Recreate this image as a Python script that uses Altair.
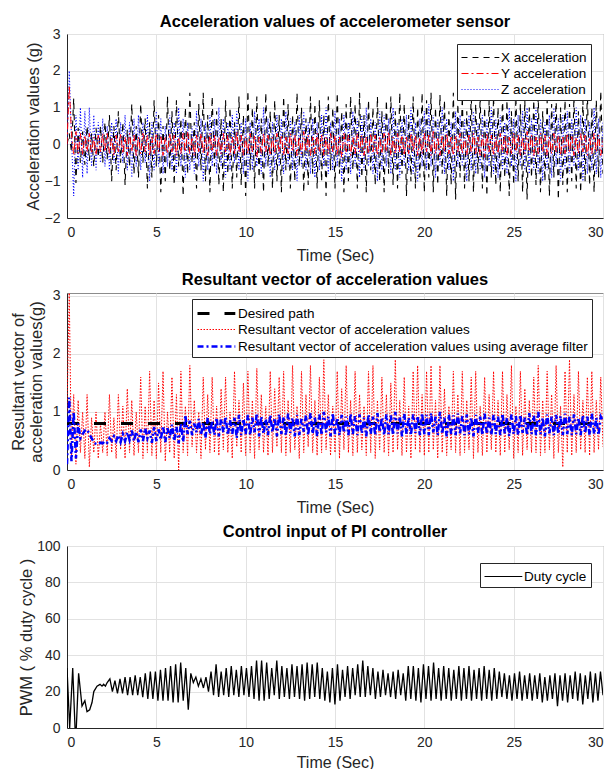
import altair as alt
import numpy as np
import pandas as pd

FONT = "Liberation Sans"
AX = "#262626"
GRID = "#e2e2e2"

# ---------------- data ----------------
# Panel 1: accelerometer axes, sampled every 0.125 s from 0 to 30 s
x_acc = [0,
    0.3, -0.2, 1.25, -1.05, 0.45, -0.5, 0.35, -0.55, 0.5, -0.45, 0.3, -0.6, 0.45, -0.35, 0.5, -0.5,
    0.6, -0.4, 0.8, -1.0, 0.5, -0.7, 0.9, -0.5, 0.6, -1.1, 0.4, -0.6, 1.1, -0.8, 0.5, -0.9,
    1.1, -0.5, 0.7, -1.2, 0.6, -0.9, 1.2, -0.6, 0.8, -1.3, 0.5, -1.0, 1.3, -0.7, 0.9, -1.1,
    1.2, -0.6, 0.7, -1.4, 1.0, -0.8, 1.4, -0.5, 0.6, -1.2, 1.1, -0.7, 1.4, -1.0, 0.8, -1.3,
    1.3, -0.6, 0.9, -1.1, 0.7, -1.3, 1.2, -0.8, 1.0, -1.2, 0.6, -0.9, 1.3, -1.1, 0.8, -1.4,
    1.45, -0.7, 1.0, -1.2, 1.3, -0.9, 0.7, -1.3, 1.4, -0.6, 0.9, -1.2, 1.2, -1.0, 0.8, -1.3,
    1.3, -0.7, 1.1, -1.2, 0.8, -1.0, 1.4, -0.6, 1.0, -1.3, 0.7, -1.1, 1.3, -0.8, 1.1, -1.2,
    1.2, -1.0, 0.8, -1.4, 1.3, -0.7, 1.0, -1.2, 1.4, -0.8, 0.9, -1.3, 1.1, -1.0, 1.3, -0.7,
    1.1, -1.2, 1.4, -0.9, 0.8, -1.3, 1.2, -0.7, 1.0, -1.1, 1.3, -1.0, 0.9, -1.3, 1.2, -0.8,
    1.3, -1.1, 0.9, -1.2, 1.4, -0.8, 1.1, -1.4, 0.8, -1.0, 1.3, -1.2, 1.0, -0.9, 1.4, -1.3,
    1.2, -0.9, 1.4, -1.3, 1.0, -1.1, 1.35, -0.8, 1.2, -1.4, 0.9, -1.1, 1.4, -1.5, 1.1, -0.9,
    1.3, -1.2, 0.9, -1.0, 1.4, -1.3, 1.1, -0.8, 1.3, -1.2, 1.0, -1.4, 1.2, -0.9, 1.3, -1.1,
    1.0, -1.3, 1.3, -0.9, 1.2, -1.4, 0.9, -1.1, 1.3, -1.0, 1.1, -1.3, 1.2, -1.5, 1.0, -0.9,
    1.2, -1.1, 1.3, -1.3, 0.9, -1.0, 1.2, -1.4, 1.1, -0.9, 1.3, -1.5, 1.0, -1.1, 1.2, -1.3,
    1.1, -1.0, 1.3, -1.2, 0.9, -1.3, 1.2, -1.0, 1.4, -1.1, 1.0, -1.3, 1.2, -0.9, 1.45, -0.8]

y_acc = [0,
    1.6, 0.3, -0.3, 0.35, -0.25, 0.3, -0.3, 0.25, -0.2, 0.3, -0.25, 0.2, -0.3, 0.25, -0.2, 0.3,
    -0.2, 0.3, -0.25, 0.2, -0.3, 0.25, -0.2, 0.3, -0.25, 0.2, -0.3, 0.3, -0.2, 0.25, -0.3, 0.2,
    -0.25, 0.3, -0.2, 0.25, -0.3, 0.2, -0.25, 0.3, -0.2, 0.25, -0.3, 0.2, -0.25, 0.3, -0.2, 0.25,
    -0.3, 0.2, -0.25, 0.3, -0.2, 0.35, -0.25, 0.2, -0.3, 0.25, -0.2, 0.3, -0.25, 0.2, -0.3, 0.3,
    -0.2, 0.25, -0.3, 0.2, -0.25, 0.3, -0.2, 0.25, -0.3, 0.2, -0.25, 0.35, -0.2, 0.25, -0.3, 0.2,
    -0.25, 0.3, -0.2, 0.25, -0.35, 0.2, -0.25, 0.3, -0.2, 0.25, -0.3, 0.2, -0.25, 0.3, -0.2, 0.25,
    -0.3, 0.2, -0.25, 0.3, -0.2, 0.25, -0.3, 0.2, -0.25, 0.35, -0.2, 0.25, -0.3, 0.2, -0.25, 0.3,
    -0.2, 0.25, -0.3, 0.2, -0.25, 0.3, -0.2, 0.25, -0.3, 0.2, -0.35, 0.3, -0.2, 0.25, -0.3, 0.2,
    -0.25, 0.3, -0.2, 0.25, -0.3, 0.2, -0.25, 0.3, -0.2, 0.25, -0.3, 0.2, -0.25, 0.3, -0.2, 0.35,
    -0.3, 0.2, -0.25, 0.3, -0.2, 0.25, -0.3, 0.2, -0.25, 0.3, -0.2, 0.25, -0.3, 0.2, -0.25, 0.3,
    -0.2, 0.25, -0.3, 0.35, -0.25, 0.2, -0.3, 0.25, -0.2, 0.3, -0.25, 0.2, -0.3, 0.25, -0.2, 0.3,
    -0.25, 0.2, -0.3, 0.25, -0.2, 0.3, -0.25, 0.2, -0.3, 0.25, -0.35, 0.3, -0.2, 0.25, -0.3, 0.2,
    -0.25, 0.3, -0.2, 0.25, -0.3, 0.2, -0.25, 0.3, -0.2, 0.25, -0.3, 0.2, -0.25, 0.35, -0.2, 0.25,
    -0.3, 0.2, -0.25, 0.3, -0.2, 0.25, -0.3, 0.2, -0.25, 0.3, -0.2, 0.25, -0.3, 0.2, -0.25, 0.3,
    -0.2, 0.25, -0.3, 0.2, -0.25, 0.3, -0.2, 0.25, -0.3, 0.2, -0.25, 0.3, -0.2, 0.25, -0.3, 0.1]

z_acc = [0,
    2.0, 0.2, -1.4, 0.8, -0.7, 1.0, -0.9, 0.9, -0.8, 1.0, -0.6, 0.8, -0.7, 0.6, -0.5, 0.7,
    -0.6, 0.5, -0.7, 0.6, -0.5, 0.7, -0.8, 0.6, -0.5, 0.8, -0.7, 0.6, -0.9, 0.7, -0.6, 0.8,
    -0.7, 0.6, -0.5, 0.8, -1.0, 0.6, -0.7, 0.9, -0.6, 0.7, -0.8, 0.5, -0.6, 0.8, -0.7, 0.6,
    -0.8, 1.0, -0.6, 0.7, -0.9, 0.6, -0.7, 0.5, -0.8, 0.9, -0.6, 0.7, -1.0, 0.6, -0.7, 0.8,
    -0.6, 0.7, -0.8, 1.0, -0.6, 0.7, -0.9, 0.6, -0.7, 0.8, -0.5, 0.9, -0.7, 0.6, -0.8, 0.7,
    -1.0, 0.6, -0.7, 0.9, -0.6, 0.7, -0.8, 1.0, -0.6, 0.7, -0.9, 0.6, -0.7, 0.8, -0.6, 0.7,
    -0.8, 0.9, -0.6, 0.7, -0.7, 0.6, -1.0, 0.8, -0.6, 0.9, -0.7, 0.6, -0.8, 0.7, -0.9, 0.6,
    -0.7, 0.8, -0.6, 1.0, -0.8, 0.6, -0.7, 0.9, -0.6, 0.7, -1.0, 0.8, -0.7, 0.6, -0.8, 0.9,
    -0.6, 0.7, -0.9, 0.8, -0.7, 1.0, -0.6, 0.7, -0.8, 0.6, -1.0, 0.9, -0.7, 0.8, -0.6, 0.7,
    -0.8, 1.0, -0.7, 0.6, -0.9, 0.7, -0.6, 0.8, -0.7, 1.0, -0.8, 0.6, -1.0, 0.7, -0.6, 0.9,
    -0.7, 1.1, -0.6, 0.8, -0.9, 0.7, -0.6, 1.0, -0.8, 0.7, -0.7, 0.6, -1.0, 0.9, -0.6, 0.8,
    -0.6, 0.7, -1.0, 0.8, -0.7, 0.9, -0.8, 0.6, -0.7, 0.8, -0.9, 0.7, -0.6, 1.0, -0.8, 0.7,
    -0.9, 0.8, -0.7, 0.6, -0.8, 1.0, -0.6, 0.7, -1.0, 0.8, -0.6, 0.9, -0.7, 1.0, -0.8, 0.7,
    -0.7, 1.0, -0.8, 0.7, -1.0, 0.6, -0.7, 0.8, -0.9, 1.0, -0.6, 0.7, -1.0, 0.8, -0.7, 0.9,
    -0.8, 0.7, -0.6, 1.0, -0.7, 0.8, -1.0, 0.7, -0.8, 0.6, -0.7, 1.0, -0.8, 0.7, -0.9, 0.6]

# Panel 2: resultant vector (raw and average filtered), every 0.125 s
res_raw = [1.0,
    3.05, 0.2, 1.3, 0.1, 1.2, 0.3, 1.0, 0.2, 1.3, 0.05, 0.9, 0.3, 1.0, 0.2, 0.8, 0.3,
    1.0, 0.25, 1.3, 0.3, 0.9, 0.2, 1.3, 0.35, 1.1, 0.2, 1.4, 0.3, 1.2, 0.25, 1.0, 0.3,
    1.6, 0.2, 1.1, 0.3, 1.7, 0.25, 1.2, 0.2, 1.5, 0.3, 1.7, 0.15, 1.0, 0.3, 1.6, 0.2,
    1.3, 0.0, 1.7, 0.3, 1.1, 0.25, 1.8, 0.4, 1.2, 0.3, 1.0, 0.2, 1.6, 0.35, 1.3, 0.3,
    1.6, 0.3, 1.1, 0.25, 1.4, 0.35, 1.6, 0.3, 1.0, 0.2, 1.7, 0.4, 1.2, 0.3, 1.5, 0.25,
    1.7, 0.3, 1.2, 0.2, 1.75, 0.35, 1.3, 0.3, 1.1, 0.25, 1.7, 0.3, 1.4, 0.4, 1.6, 0.3,
    1.7, 0.25, 1.2, 0.3, 1.8, 0.35, 1.1, 0.2, 1.7, 0.3, 1.3, 0.4, 1.8, 0.3, 1.2, 0.25,
    1.6, 0.3, 1.9, 0.35, 1.3, 0.25, 1.1, 0.3, 1.7, 0.2, 1.4, 0.35, 1.8, 0.3, 1.2, 0.25,
    1.7, 0.3, 1.3, 0.35, 1.1, 0.25, 1.7, 0.3, 1.8, 0.2, 1.2, 0.35, 1.6, 0.3, 1.3, 0.25,
    1.5, 0.3, 1.9, 0.35, 1.2, 0.25, 1.6, 0.3, 1.1, 0.2, 1.7, 0.35, 1.8, 0.3, 1.3, 0.25,
    1.7, 0.3, 1.8, 0.35, 1.2, 0.2, 1.8, 0.3, 1.4, 0.25, 1.1, 0.35, 1.7, 0.3, 1.3, 0.25,
    1.7, 0.3, 1.2, 0.35, 1.6, 0.2, 1.7, 0.3, 1.1, 0.25, 1.6, 0.3, 1.3, 0.35, 1.7, 0.3,
    1.2, 0.25, 1.7, 0.3, 1.3, 0.35, 1.8, 0.2, 1.1, 0.3, 1.7, 0.25, 1.4, 0.35, 1.2, 0.3,
    1.6, 0.3, 1.8, 0.25, 1.2, 0.3, 1.7, 0.35, 1.3, 0.2, 1.8, 0.3, 1.1, 0.05, 1.7, 0.3,
    1.9, 0.25, 1.3, 0.3, 1.7, 0.35, 1.2, 0.3, 1.6, 0.25, 1.7, 0.3, 1.2, 0.35, 1.6, 0.4]

res_avg = [0.1,
    1.25, 0.15, 1.0, 0.2, 0.8, 0.55, 0.62, 0.68, 0.7, 0.62, 0.55, 0.48, 0.45, 0.44, 0.47, 0.46,
    0.5, 0.47, 0.55, 0.5, 0.58, 0.5, 0.6, 0.48, 0.62, 0.5, 0.65, 0.52, 0.68, 0.5, 0.66, 0.48,
    0.7, 0.5, 0.72, 0.55, 0.68, 0.47, 0.74, 0.5, 0.7, 0.52, 0.76, 0.48, 0.72, 0.55, 0.78, 0.5,
    0.75, 0.46, 0.8, 0.48, 0.95, 0.62, 0.85, 0.6, 0.8, 0.65, 0.88, 0.6, 0.82, 0.55, 0.9, 0.62,
    0.85, 0.6, 0.9, 0.58, 0.88, 0.65, 0.92, 0.6, 0.86, 0.62, 0.9, 0.55, 0.95, 0.6, 0.88, 0.62,
    0.95, 0.6, 0.9, 0.65, 0.98, 0.58, 0.92, 0.62, 0.88, 0.6, 0.95, 0.65, 0.9, 0.58, 0.96, 0.62,
    0.92, 0.6, 0.97, 0.64, 0.9, 0.58, 0.95, 0.6, 0.88, 0.66, 0.94, 0.6, 0.98, 0.62, 0.9, 0.58,
    0.96, 0.6, 1.0, 0.65, 0.92, 0.58, 0.98, 0.62, 0.9, 0.6, 0.95, 0.64, 0.92, 0.6, 0.97, 0.62,
    0.93, 0.6, 0.96, 0.63, 0.9, 0.58, 0.95, 0.62, 0.92, 0.6, 0.98, 0.65, 0.9, 0.6, 0.96, 0.62,
    0.94, 0.6, 1.0, 0.63, 0.92, 0.58, 0.97, 0.62, 0.9, 0.6, 0.96, 0.64, 0.93, 0.6, 0.98, 0.62,
    0.95, 0.6, 0.98, 0.65, 0.92, 0.6, 1.0, 0.62, 0.9, 0.58, 0.96, 0.62, 0.94, 0.6, 0.97, 0.63,
    0.93, 0.6, 0.96, 0.62, 0.9, 0.58, 0.95, 0.64, 0.92, 0.6, 0.97, 0.62, 0.9, 0.6, 0.95, 0.62,
    0.92, 0.6, 0.97, 0.63, 0.9, 0.58, 0.96, 0.62, 0.93, 0.6, 0.95, 0.64, 0.9, 0.6, 0.98, 0.62,
    0.94, 0.6, 1.0, 0.62, 0.9, 0.58, 0.96, 0.63, 0.92, 0.6, 0.95, 0.62, 0.93, 0.6, 0.97, 0.62,
    0.92, 0.6, 0.96, 0.62, 0.9, 0.6, 0.95, 0.63, 0.92, 0.6, 0.97, 0.62, 0.9, 0.6, 0.92, 0.85]

desired_t = [0, 30]
desired_v = [0.8, 0.8]

# Panel 3: duty cycle. Start-up transient (explicit times) then steady oscillation
pwm_start_t = [0, 0.0, 0.15, 0.32, 0.45, 0.52, 0.65, 0.84, 1.0, 1.12, 1.27, 1.4, 1.5, 1.68, 1.85, 1.96, 2.05, 2.15, 2.25]
pwm_start_v = [0, 33, 0, 33, 0, 0, 30, 12, 15, 9, 10, 14, 20, 23, 24, 23, 24, 23, 25]
pwm_osc = [  # alternating peak / trough, 2.4 s .. 30 s
    27, 20, 26, 19, 27, 19, 28, 18, 28, 18, 29, 18, 28, 17, 30, 16, 31, 16, 31, 15,
    32, 15, 33, 15, 34, 14, 35, 14, 36, 15, 33, 10, 30, 25, 28, 23, 27, 22, 28, 20,
    31, 18, 35, 17, 31, 18, 33, 17, 34, 18, 32, 17, 34, 18, 33, 17, 34, 16, 37, 15,
    37, 15, 36, 16, 33, 18, 37, 16, 34, 17, 33, 16, 35, 17, 34, 16, 35, 15, 36, 16,
    35, 17, 36, 16, 33, 15, 31, 14, 33, 13, 35, 15, 32, 17, 34, 16, 33, 18, 35, 17,
    37, 17, 34, 18, 33, 16, 31, 17, 32, 18, 30, 17, 31, 16, 32, 18, 30, 15, 34, 16,
    34, 15, 33, 14, 35, 16, 34, 15, 36, 16, 33, 15, 34, 16, 33, 15, 32, 16, 34, 15,
    33, 16, 34, 15, 32, 16, 33, 15, 34, 16, 32, 15, 33, 16, 31, 17, 30, 16, 29, 15,
    30, 16, 31, 15, 29, 16, 30, 15, 29, 16, 30, 14, 28, 15, 29, 16, 30, 12, 29, 15,
    30, 14, 29, 16, 31, 15, 30, 13, 29, 16, 31, 14, 30, 15, 31, 18]


def series(vals, name, t0=0.0, t1=30.0):
    return pd.DataFrame({"t": np.linspace(t0, t1, len(vals)), "v": vals, "s": name})


# ---------------- helpers ----------------
W = 536


def x_enc(tpad):
    # end labels flush so the figure fits the 597 px wide page body
    return alt.X("t:Q", scale=alt.Scale(domain=[0, 30], nice=False, zero=False),
                 axis=alt.Axis(values=[0, 5, 10, 15, 20, 25, 30], format="d",
                               title="Time (Sec)", labelFlush=True, labelFlushOffset=0,
                               titlePadding=tpad, titleFontSize=16))


def y_enc(domain, values, title, tpad):
    return alt.Y("v:Q", scale=alt.Scale(domain=domain, nice=False, zero=False),
                 axis=alt.Axis(values=values, format="d", title=title, titlePadding=tpad,
                               titleFontSize=16.5))


def legend(lx, ly):
    # 18 px rows with a long (38 px) stroke symbol drawn from the entry's left edge
    return alt.Legend(orient="none", legendX=lx, legendY=ly, title=None,
                      symbolType="M-1,0L3.2,0", symbolSize=324, labelOffset=21,
                      labelFont=FONT, labelFontSize=13.5, labelColor="#000",
                      labelLimit=0, strokeColor=AX, fillColor="white", padding=4,
                      rowPadding=0, symbolFillColor="transparent")


def title(text, off):
    return alt.TitleParams(text, font=FONT, fontSize=16.5, fontWeight="bold",
                           color="#000", frame="group", anchor="middle", offset=off)


# ---------------- panel 1 ----------------
dom1 = ["X acceleration", "Y acceleration", "Z acceleration"]
col1 = ["#000000", "#ff0000", "#0000ff"]
dash1 = [[6, 5], [7, 3, 2, 3], [1, 2]]
leg1 = legend(390, 10)


def layer1(vals, name, w):
    return alt.Chart(series(vals, name)).mark_line(strokeWidth=w, clip=True).encode(
        x=x_enc(8),
        y=y_enc([-2, 3], [-2, -1, 0, 1, 2, 3], "Acceleration values (g)", 3),
        color=alt.Color("s:N", scale=alt.Scale(domain=dom1, range=col1), legend=leg1),
        strokeDash=alt.StrokeDash("s:N", scale=alt.Scale(domain=dom1, range=dash1), legend=leg1),
    )


p1 = alt.layer(layer1(x_acc, dom1[0], 1.1), layer1(z_acc, dom1[2], 1.1), layer1(y_acc, dom1[1], 1)).properties(
    width=W, height=184, title=title("Acceleration values of accelerometer sensor", -3))

# ---------------- panel 2 ----------------
dom2 = ["Desired path", "Resultant vector of acceleration values",
        "Resultant vector of acceleration values using average filter"]
col2 = ["#000000", "#ff0000", "#0000ff"]
dash2 = [[12, 15], [1.5, 1.5], [6, 3, 2, 3]]
wid2 = [3, 1, 2.5]
leg2 = legend(125, 6)


def layer2(df):
    return alt.Chart(df).mark_line(clip=True).encode(
        x=x_enc(8),
        y=y_enc([0, 3.05], [0, 1, 2, 3], ["Resultant vector of", "acceleration values(g)"], 8),
        color=alt.Color("s:N", scale=alt.Scale(domain=dom2, range=col2), legend=leg2),
        strokeDash=alt.StrokeDash("s:N", scale=alt.Scale(domain=dom2, range=dash2), legend=leg2),
        strokeWidth=alt.StrokeWidth("s:N", scale=alt.Scale(type="ordinal", domain=dom2, range=wid2), legend=leg2),
    )


p2 = alt.layer(
    layer2(series(res_raw, dom2[1])),
    layer2(pd.DataFrame({"t": desired_t, "v": desired_v, "s": dom2[0]})),
    layer2(series(res_avg, dom2[2])),
).properties(width=W, height=177, title=title("Resultant vector of acceleration values", 0))

# ---------------- panel 3 ----------------
dom3 = ["Duty cycle"]
pwm_df = pd.concat([
    pd.DataFrame({"t": pwm_start_t, "v": pwm_start_v, "s": dom3[0]}),
    series(pwm_osc, dom3[0], 2.4, 30.0),
], ignore_index=True)
leg3 = legend(413, 17)
p3 = alt.Chart(pwm_df).mark_line(strokeWidth=1.3, clip=True).encode(
    x=x_enc(5),
    y=y_enc([0, 100], [0, 20, 40, 60, 80, 100], "PWM ( % duty cycle )", 2),
    color=alt.Color("s:N", scale=alt.Scale(domain=dom3, range=["#000000"]), legend=leg3),
).properties(width=W, height=182, title=title("Control input of PI controller", -1))

chart = alt.vconcat(p1, p2, p3, spacing=7).resolve_scale(
    color="independent", strokeDash="independent", strokeWidth="independent"
).resolve_legend(
    color="independent", strokeDash="independent", strokeWidth="independent"
).properties(
    padding={"left": 1, "right": 0, "top": 5, "bottom": -2}
).configure_view(stroke="#8c8c8c", strokeWidth=1).configure_axis(
    grid=True, gridColor=GRID, gridWidth=1, domainColor=AX, domainWidth=1,
    ticks=False, labelFont=FONT, labelFontSize=14, labelColor=AX, labelPadding=7,
    titleFont=FONT, titleFontWeight="normal", titleColor=AX,
    titleLineHeight=18,
).configure_legend(symbolStrokeWidth=1)

chart.save("out.html", embed_options={"renderer": "svg", "actions": False})
